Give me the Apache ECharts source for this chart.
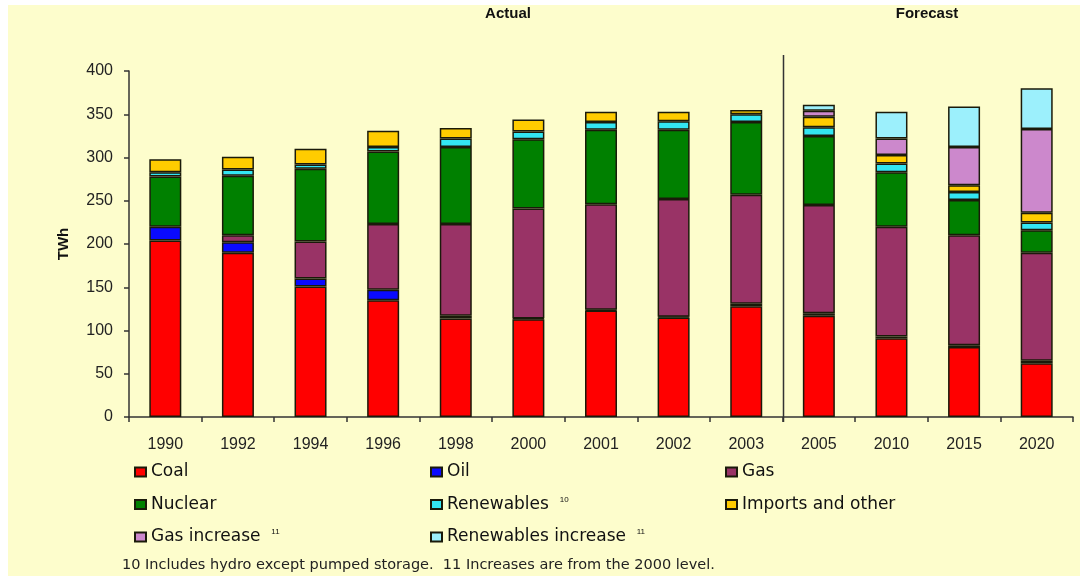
<!DOCTYPE html>
<html>
<head>
<meta charset="utf-8">
<script src="https://cdn.jsdelivr.net/npm/echarts@6/dist/echarts.min.js"></script>
<style>
  html, body { margin: 0; padding: 0; background: #ffffff; }
  #chart { width: 1080px; height: 576px; }
</style>
</head>
<body>
<div id="chart"></div>
<script>
// Electricity supply by source, TWh
const years = ['1990', '1992', '1994', '1996', '1998', '2000', '2001', '2002', '2003', '2005', '2010', '2015', '2020'];
const coal = [204, 190, 151, 135, 114, 113, 123, 115, 128, 117, 91, 81, 62];
const oil = [16, 12, 9, 12, 3, 1, 1, 1, 3, 3, 2, 2, 3];
const gas = [null, 8, 43, 76, 106, 127, 122, 136, 126, 125, 127, 127, 125];
const nuclear = [58, 69, 84, 84, 89, 80, 86, 80, 84, 80, 63, 41, 26];
const renewables = [5, 7, 5, 5, 10, 9, 9, 10, 9, 10, 10, 9, 9];
const imports = [15, 15, 18, 19, 12, 14, 12, 11, 5, 12, 10, 8, 11];
const gasIncrease = [null, null, null, null, null, null, null, null, null, 7, 19, 44, 97];
const renewablesIncrease = [null, null, null, null, null, null, null, null, null, 7, 31, 47, 47];
const yTicks = [0, 50, 100, 150, 200, 250, 300, 350, 400];

const FONT = '"Liberation Sans", Arial, Helvetica, sans-serif';
const WIDE_FONT = '"DejaVu Sans", Verdana, sans-serif';

const seriesDefs = [
  { name: 'Coal', data: coal, color: '#ff0000' },
  { name: 'Oil', data: oil, color: '#0a0aff' },
  { name: 'Gas', data: gas, color: '#993366' },
  { name: 'Nuclear', data: nuclear, color: '#008000' },
  { name: 'Renewables', data: renewables, color: '#33e6f2' },
  { name: 'Imports and other', data: imports, color: '#ffcc00' },
  { name: 'Gas increase', data: gasIncrease, color: '#cc88cc' },
  { name: 'Renewables increase', data: renewablesIncrease, color: '#9cf0fc' }
];

// footnote markers shown after some legend entries
const noteRefs = { 'Renewables': '10', 'Gas increase': '11', 'Renewables increase': '11' };

const legendText = {
  fontFamily: WIDE_FONT,
  fontSize: 17,
  color: '#111',
  lineHeight: 18,
  rich: {
    t: { fontFamily: WIDE_FONT, fontSize: 17, color: '#111', lineHeight: 18 },
    s: { fontFamily: FONT, fontSize: 8, color: '#111', lineHeight: 18, verticalAlign: 'top', padding: [0, 0, 6, 0] }
  }
};
function legendFormatter(name) {
  return noteRefs[name] ? '{t|' + name + '}  {s|' + noteRefs[name] + '}' : name;
}
function makeLegend(left, names) {
  return {
    orient: 'vertical',
    left: left,
    top: 463,
    padding: 0,
    itemGap: 14.5,
    itemWidth: 11,
    itemHeight: 9,
    icon: 'rect',
    selectedMode: false,
    data: names,
    formatter: legendFormatter,
    textStyle: legendText
  };
}

const chart = echarts.init(document.getElementById('chart'), null, { renderer: 'canvas' });

const option = {
  backgroundColor: '#ffffff',
  animation: false,
  grid: { left: 129, right: 7, top: 71, bottom: 159, containLabel: false },
  xAxis: {
    type: 'category',
    data: years,
    axisLine: { show: true, lineStyle: { color: '#333', width: 1.5 } },
    axisTick: { show: true, length: 5, lineStyle: { color: '#333', width: 1.5 } },
    axisLabel: { fontFamily: FONT, fontSize: 16, color: '#222', margin: 20 }
  },
  yAxis: {
    type: 'value',
    min: yTicks[0],
    max: yTicks[yTicks.length - 1],
    interval: yTicks[1] - yTicks[0],
    name: 'TWh',
    nameLocation: 'middle',
    nameRotate: 90,
    nameGap: 58,
    nameTextStyle: { fontFamily: FONT, fontSize: 15, fontWeight: 'bold', color: '#111' },
    axisLine: { show: true, lineStyle: { color: '#333', width: 1.5 } },
    axisTick: { show: true, length: 5, lineStyle: { color: '#333', width: 1.5 } },
    axisLabel: { fontFamily: FONT, fontSize: 16, color: '#222', margin: 16 },
    splitLine: { show: false }
  },
  legend: [
    makeLegend(134, ['Coal', 'Nuclear', 'Gas increase']),
    makeLegend(430, ['Oil', 'Renewables', 'Renewables increase']),
    makeLegend(725, ['Gas', 'Imports and other'])
  ],
  series: seriesDefs.map(function (s) {
    return {
      name: s.name,
      type: 'bar',
      stack: 'supply',
      barWidth: 32,
      data: s.data,
      itemStyle: { color: s.color, borderColor: '#1a1a0a', borderWidth: 1.5 },
      emphasis: { disabled: true }
    };
  })
};

chart.setOption(option);

// divider between actual and forecast years, placed from the category axis
const xA = chart.convertToPixel({ xAxisIndex: 0 }, '2003');
const xB = chart.convertToPixel({ xAxisIndex: 0 }, '2005');
const xDiv = Math.round((xA + xB) / 2) + 0.5;
const yBase = chart.convertToPixel({ yAxisIndex: 0 }, 0);

chart.setOption({
  graphic: [
    {
      type: 'rect',
      z: -100,
      silent: true,
      shape: { x: 8, y: 5, width: 1072, height: 571 },
      style: { fill: '#fdfdcc' }
    },
    {
      type: 'line',
      z: 10,
      silent: true,
      shape: { x1: xDiv, y1: 55, x2: xDiv, y2: yBase + 5 },
      style: { stroke: '#333', lineWidth: 1.5 }
    },
    {
      type: 'text',
      silent: true,
      x: 508, y: 14,
      style: { text: 'Actual', fontFamily: FONT, fontSize: 15, fontWeight: 'bold', fill: '#111', align: 'center', verticalAlign: 'middle' }
    },
    {
      type: 'text',
      silent: true,
      x: 927, y: 14,
      style: { text: 'Forecast', fontFamily: FONT, fontSize: 15, fontWeight: 'bold', fill: '#111', align: 'center', verticalAlign: 'middle' }
    },
    {
      type: 'text',
      silent: true,
      x: 122, y: 565,
      style: { text: '10 Includes hydro except pumped storage.  11 Increases are from the 2000 level.', fontFamily: WIDE_FONT, fontSize: 14.5, fill: '#222', align: 'left', verticalAlign: 'middle' }
    }
  ]
});
</script>
</body>
</html>
